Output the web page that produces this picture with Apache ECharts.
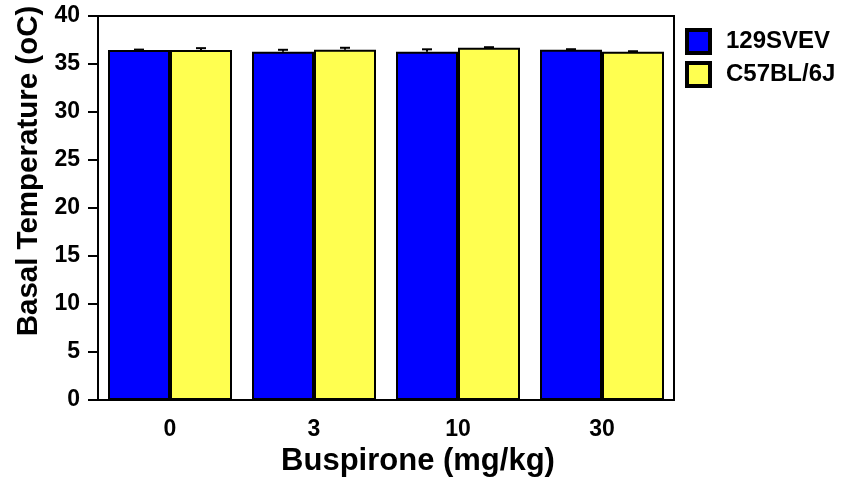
<!DOCTYPE html>
<html>
<head>
<meta charset="utf-8">
<script src="https://cdn.jsdelivr.net/npm/echarts@6/dist/echarts.min.js"></script>
<style>
html,body{margin:0;padding:0;background:#fff;}
#chart{width:862px;height:484px;}
</style>
</head>
<body>
<div id="chart"></div>
<script>
const categories = ['0', '3', '10', '30'];
const yTicks = [0, 5, 10, 15, 20, 25, 30, 35, 40];
const seriesNames = ['129SVEV', 'C57BL/6J'];
const strain129 = [36.45, 36.28, 36.28, 36.49];
const strain129Err = [0.05, 0.2, 0.25, 0.05];
const strainB6 = [36.45, 36.49, 36.7, 36.28];
const strainB6Err = [0.2, 0.2, 0.05, 0.05];

const FONT = '"Liberation Sans", Arial, sans-serif';
const BAR_W = 62;

function errData(vals, errs) {
  return vals.map((v, i) => [i, v, errs[i]]);
}
function errSeries(vals, errs, offset) {
  return {
    type: 'custom',
    z: 5,
    silent: true,
    encode: { x: 0, y: 1 },
    data: errData(vals, errs),
    renderItem: function (params, api) {
      const idx = api.value(0);
      const v = api.value(1);
      const e = api.value(2);
      const base = api.coord([idx, v]);
      const top = api.coord([idx, v + e]);
      const x = base[0] + offset;
      const st = { stroke: '#000', lineWidth: 2 };
      return {
        type: 'group',
        children: [
          { type: 'line', shape: { x1: x, y1: base[1], x2: x, y2: top[1] }, style: st },
          { type: 'line', shape: { x1: x - 5, y1: top[1], x2: x + 5, y2: top[1] }, style: st }
        ]
      };
    }
  };
}

const chart = echarts.init(document.getElementById('chart'), null, { renderer: 'canvas' });
chart.setOption({
  animation: false,
  backgroundColor: '#fff',
  textStyle: { fontFamily: FONT },
  grid: {
    left: 98, right: 188, top: 16, bottom: 84,
    show: true, borderColor: '#000', borderWidth: 2, backgroundColor: 'transparent'
  },
  legend: {
    data: seriesNames,
    orient: 'vertical',
    left: 685,
    top: 28,
    padding: 0,
    itemWidth: 23,
    itemHeight: 23,
    itemGap: 6,
    icon: 'rect',
    itemStyle: { borderColor: '#000', borderWidth: 4 },
    textStyle: { fontFamily: FONT, fontWeight: 'bold', fontSize: 24, lineHeight: 23, color: '#000', padding: [0, 0, 0, 11] }
  },
  xAxis: {
    type: 'category',
    data: categories,
    name: 'Buspirone (mg/kg)',
    nameLocation: 'middle',
    nameGap: 37,
    nameTextStyle: { fontFamily: FONT, fontWeight: 'bold', fontSize: 31, color: '#000', padding: [0, 0, 0, 64] },
    axisLine: { lineStyle: { color: '#000', width: 2 } },
    axisTick: { alignWithLabel: true, length: 5, lineStyle: { color: '#000', width: 2 } },
    axisLabel: { fontFamily: FONT, fontWeight: 'bold', fontSize: 23, color: '#000', margin: 18 },
    splitLine: { show: false }
  },
  yAxis: {
    type: 'value',
    min: yTicks[0],
    max: yTicks[yTicks.length - 1],
    interval: yTicks[1] - yTicks[0],
    name: 'Basal Temperature (oC)',
    nameLocation: 'middle',
    nameGap: 48,
    nameTextStyle: { fontFamily: FONT, fontWeight: 'bold', fontSize: 29.5, color: '#000', padding: [0, 0, 0, 74] },
    axisLine: { show: true, lineStyle: { color: '#000', width: 2 } },
    axisTick: { show: true, inside: false, length: 10, lineStyle: { color: '#000', width: 2 } },
    axisLabel: { fontFamily: FONT, fontWeight: 'bold', fontSize: 23, color: '#000', margin: 18 },
    splitLine: { show: false }
  },
  series: [
    {
      name: seriesNames[0],
      type: 'bar',
      data: strain129,
      barWidth: BAR_W,
      barGap: '0%',
      itemStyle: { color: '#0000ff', borderColor: '#000', borderWidth: 2 }
    },
    {
      name: seriesNames[1],
      type: 'bar',
      data: strainB6,
      barWidth: BAR_W,
      barGap: '0%',
      itemStyle: { color: '#ffff50', borderColor: '#000', borderWidth: 2 }
    },
    errSeries(strain129, strain129Err, -BAR_W / 2),
    errSeries(strainB6, strainB6Err, BAR_W / 2)
  ]
});
</script>
</body>
</html>
